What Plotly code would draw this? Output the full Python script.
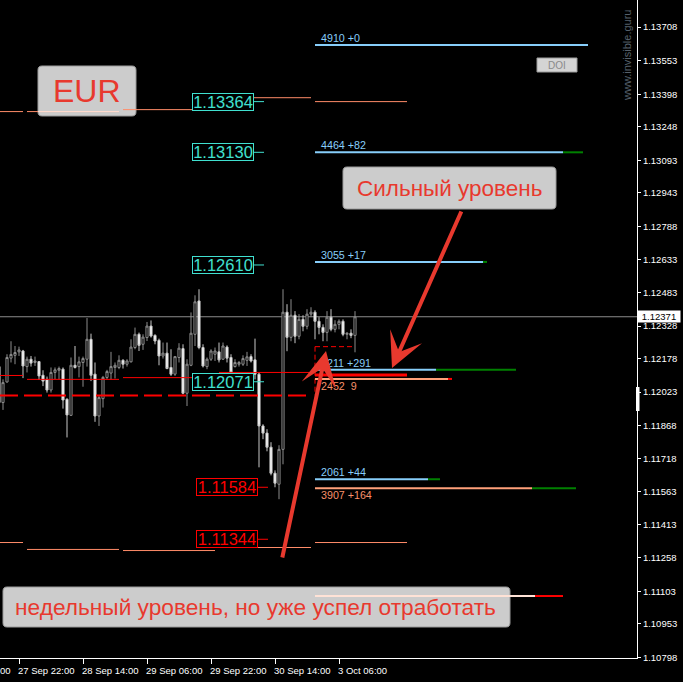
import plotly.graph_objects as go

# ---------------- EURUSD H1 bars (bar index 0 = 27 Sep 18:00) ----------------
bar_index = list(range(-1, 89))
open_ = [1.12141, 1.11975, 1.12070, 1.12180, 1.12193, 1.12209, 1.12213, 1.12141, 1.12175, 1.12160,
         1.12164, 1.12101, 1.12082, 1.12033, 1.12114, 1.12124, 1.12129, 1.11990, 1.11916, 1.12147,
         1.12141, 1.12160, 1.12175, 1.12267, 1.12106, 1.11913, 1.11993, 1.12091, 1.12111, 1.12137,
         1.12137, 1.12170, 1.12152, 1.12163, 1.12229, 1.12290, 1.12244, 1.12275, 1.12328, 1.12285,
         1.12262, 1.12190, 1.12203, 1.12137, 1.12106, 1.12183, 1.12224, 1.12018, 1.12147, 1.12290,
         1.12444, 1.12229, 1.12141, 1.12175, 1.12198, 1.12209, 1.12175, 1.12231, 1.12183, 1.12141,
         1.12152, 1.12152, 1.12170, 1.12187, 1.12172, 1.12106, 1.11867, 1.11834, 1.11769, 1.11649,
         1.11598, 1.11759, 1.12392, 1.12276, 1.12378, 1.12281, 1.12359, 1.12327, 1.12383, 1.12392,
         1.12350, 1.12322, 1.12299, 1.12369, 1.12313, 1.12336, 1.12350, 1.12290, 1.12295, 1.12285]
high = [1.12152, 1.12082, 1.12198, 1.12258, 1.12236, 1.12233, 1.12218, 1.12187, 1.12190, 1.12187,
        1.12166, 1.12124, 1.12095, 1.12137, 1.12137, 1.12141, 1.12137, 1.11995, 1.12183, 1.12236,
        1.12187, 1.12187, 1.12365, 1.12293, 1.12160, 1.12005, 1.12098, 1.12126, 1.12209, 1.12160,
        1.12193, 1.12175, 1.12175, 1.12267, 1.12321, 1.12298, 1.12290, 1.12347, 1.12354, 1.12290,
        1.12270, 1.12252, 1.12252, 1.12221, 1.12190, 1.12249, 1.12244, 1.12175, 1.12391, 1.12470,
        1.12498, 1.12244, 1.12183, 1.12221, 1.12229, 1.12252, 1.12252, 1.12239, 1.12198, 1.12175,
        1.12167, 1.12193, 1.12209, 1.12198, 1.12270, 1.12114, 1.11875, 1.11852, 1.11792, 1.11662,
        1.11778, 1.12498, 1.12429, 1.12452, 1.12397, 1.12383, 1.12378, 1.12406, 1.12415, 1.12401,
        1.12369, 1.12336, 1.12397, 1.12406, 1.12355, 1.12359, 1.12359, 1.12299, 1.12313, 1.12397]
low = [1.11959, 1.11941, 1.12067, 1.12160, 1.12152, 1.12190, 1.12088, 1.12114, 1.12141, 1.12144,
       1.12079, 1.12051, 1.12021, 1.12021, 1.12082, 1.12082, 1.11947, 1.11814, 1.11913, 1.12132,
       1.12091, 1.12048, 1.12141, 1.12074, 1.11886, 1.11867, 1.11952, 1.12082, 1.12082, 1.12086,
       1.12129, 1.12132, 1.12141, 1.12160, 1.12221, 1.12213, 1.12218, 1.12259, 1.12275, 1.12244,
       1.12147, 1.12178, 1.12129, 1.12098, 1.12098, 1.12160, 1.12013, 1.11959, 1.12143, 1.12236,
       1.12221, 1.12137, 1.12129, 1.12167, 1.12167, 1.12160, 1.12172, 1.12160, 1.12082, 1.12137,
       1.12141, 1.12144, 1.12144, 1.12160, 1.12082, 1.11676, 1.11806, 1.11750, 1.11639, 1.11584,
       1.11529, 1.11690, 1.12212, 1.12258, 1.12249, 1.12267, 1.12304, 1.12313, 1.12369, 1.12267,
       1.12290, 1.12258, 1.12258, 1.12304, 1.12299, 1.12313, 1.12281, 1.12267, 1.12272, 1.12207]
close = [1.11975, 1.12067, 1.12183, 1.12197, 1.12206, 1.12218, 1.12144, 1.12175, 1.12157, 1.12167,
         1.12098, 1.12074, 1.12033, 1.12114, 1.12126, 1.12132, 1.11987, 1.11918, 1.12147, 1.12137,
         1.12163, 1.12178, 1.12267, 1.12101, 1.11913, 1.11998, 1.12091, 1.12118, 1.12141, 1.12147,
         1.12170, 1.12152, 1.12167, 1.12231, 1.12290, 1.12239, 1.12277, 1.12328, 1.12282, 1.12259,
         1.12190, 1.12203, 1.12132, 1.12106, 1.12187, 1.12226, 1.12018, 1.12152, 1.12295, 1.12440,
         1.12229, 1.12144, 1.12175, 1.12213, 1.12213, 1.12172, 1.12236, 1.12180, 1.12114, 1.12160,
         1.12160, 1.12178, 1.12186, 1.12167, 1.12106, 1.11867, 1.11834, 1.11769, 1.11649, 1.11603,
         1.11759, 1.12392, 1.12276, 1.12378, 1.12281, 1.12359, 1.12327, 1.12383, 1.12392, 1.12350,
         1.12322, 1.12299, 1.12369, 1.12313, 1.12336, 1.12350, 1.12290, 1.12295, 1.12285, 1.12371]
last_price = 1.12371

price_ticks = [1.13708, 1.13553, 1.13398, 1.13248, 1.13093, 1.12943, 1.12788, 1.12633, 1.12483,
               1.12328, 1.12178, 1.12023, 1.11868, 1.11718, 1.11563, 1.11413, 1.11258, 1.11103,
               1.10953, 1.10798]
time_tick_bars = [-12, 4, 20, 36, 52, 68, 84]
time_tick_labels = ["27 Sep 06:00", "27 Sep 22:00", "28 Sep 14:00", "29 Sep 06:00",
                    "29 Sep 22:00", "30 Sep 14:00", "3 Oct 06:00"]

# ---------------- daily levels ----------------
day_start_bars = [-2, 6, 30, 54, 78]
day_end_bars = [5, 29, 53, 77, 101]
day_upper_levels = [1.13318, 1.13318, 1.13327, 1.13382, 1.13364]
day_mid_levels = [1.12100, 1.12082, 1.12090, 1.12114, 1.12102]
day_lower_levels = [1.11329, 1.11297, 1.11292, 1.11306, 1.11329]
weekly_level = 1.12007
weekly_level_end_bar = 76.25

# ---------------- price tags ----------------
tag_values = [1.13364, 1.13130, 1.12610, 1.12071, 1.11584, 1.11344]
tag_colors = ["#40E0D0", "#40E0D0", "#40E0D0", "#40E0D0", "#FF0000", "#FF0000"]
tag_end_bars = [65.25, 65.25, 65.25, 65.25, 66.25, 66.25]

# ---------------- volume levels of the current day ----------------
vol_prices = [1.13625, 1.13130, 1.12624, 1.12126, 1.12084, 1.11621, 1.11579, 1.11082]
vol_labels = ["4910 +0", "4464 +82", "3055 +17", "3211 +291", "2452\u00a0\u00a09",
              "2061 +44", "3907 +164", ""]
vol_start_bar = 78
vol_end_bars = [146.25, 140.0, 120.0, 108.25, 111.25, 106.25, 132.25, 133.0]
vol_tail_end_bars = [None, 145.0, 121.0, 128.25, 112.25, 109.25, 143.25, 140.0]

BLUE = "#87CEFA"
SALMON = "#FFA07A"
GREEN = "#008000"
RED = "#FF0000"
vol_colors = [BLUE, BLUE, BLUE, BLUE, SALMON, BLUE, SALMON, "#FFE2D6"]
vol_tail_colors = [None, GREEN, GREEN, GREEN, RED, GREEN, GREEN, RED]
vol_text_colors = [BLUE, BLUE, BLUE, BLUE, "#F8916A", BLUE, "#F8916A", None]

# ---------------- geometry ----------------
W, H = 683, 682
ML, MR, MT, MB = 0, 46, 0, 24
PW, PH = W - ML - MR, H - MT - MB
X0, X1 = -0.75, 158.5
Y0, Y1 = 1.10796, 1.13833
ARROW = "#E8392E"
FONT = "Liberation Sans, Arial, sans-serif"


def px(x):
    return x / PW


def py(y):
    return 1 - y / PH


def rounded_box(x0, y0, x1, y1, r=4):
    pts = [("M", x0 + r, y0), ("L", x1 - r, y0), ("Q", x1, y0, x1, y0 + r),
           ("L", x1, y1 - r), ("Q", x1, y1, x1 - r, y1), ("L", x0 + r, y1),
           ("Q", x0, y1, x0, y1 - r), ("L", x0, y0 + r), ("Q", x0, y0, x0 + r, y0)]
    out = []
    for p in pts:
        cmd, coords = p[0], p[1:]
        conv = []
        for i in range(0, len(coords), 2):
            conv.append(f"{px(coords[i]):.5f},{py(coords[i + 1]):.5f}")
        out.append(cmd + " ".join(conv))
    return " ".join(out) + " Z"


fig = go.Figure()
fig.add_trace(go.Candlestick(
    x=bar_index, open=open_, high=high, low=low, close=close,
    increasing=dict(line=dict(color="#8C8C8C", width=1), fillcolor="#000000"),
    decreasing=dict(line=dict(color="#C8C8C8", width=1), fillcolor="#FFFFFF"),
    whiskerwidth=0, hoverinfo="skip", showlegend=False,
))

shapes = []


def hline(y, xa, xb, color, width=1, dash="solid"):
    shapes.append(dict(type="line", xref="x", yref="y", x0=xa, x1=xb, y0=y, y1=y,
                       line=dict(color=color, width=width, dash=dash), layer="above"))


# last price line
shapes.append(dict(type="line", xref="paper", yref="y", x0=0, x1=1, y0=last_price, y1=last_price,
                   line=dict(color="#8C8C8C", width=1), layer="below"))

# grey text boxes
for (bx0, by0, bx1, by1) in [(38, 66, 136, 116), (343, 167, 556, 209), (3, 587, 510, 627)]:
    shapes.append(dict(type="path", xref="paper", yref="paper", path=rounded_box(bx0, by0, bx1, by1),
                       fillcolor="#CCCCCC", line=dict(color="#9A9A9A", width=1), layer="above"))

# DOI button
shapes.append(dict(type="rect", xref="paper", yref="paper", x0=px(537), x1=px(577), y0=py(72), y1=py(58),
                   fillcolor="#D4D4D4", line=dict(color="#9C9C9C", width=1), layer="above"))

# daily levels
for i in range(len(day_start_bars)):
    hline(day_upper_levels[i], day_start_bars[i], day_end_bars[i], "#FF8C69")
    hline(day_lower_levels[i], day_start_bars[i], day_end_bars[i], "#FF8C69")
    hline(day_mid_levels[i], day_start_bars[i], day_end_bars[i], RED, width=3 if i == 4 else 1)

# light part of the day line crossing the EUR box
box_left_bar = X0 + px(38) * (X1 - X0)
hline(day_upper_levels[1], box_left_bar, day_end_bars[1], "#FFE2D6")

# weekly level
hline(weekly_level, X0, weekly_level_end_bar, RED, width=2, dash="18px,6px")

# current-day range marker
range_top, range_bottom = 1.12233, 1.12009
shapes.append(dict(type="line", xref="x", yref="y", x0=78, x1=88, y0=range_top, y1=range_top,
                   line=dict(color=RED, width=1, dash="5px,3px"), layer="above"))
shapes.append(dict(type="line", xref="x", yref="y", x0=78, x1=78, y0=range_top, y1=range_bottom,
                   line=dict(color=RED, width=1, dash="5px,3px"), layer="above"))

# volume levels
for i, p in enumerate(vol_prices):
    hline(p, vol_start_bar, vol_end_bars[i], vol_colors[i], width=2)
    if vol_tail_end_bars[i] is not None:
        hline(p, vol_end_bars[i], vol_tail_end_bars[i], vol_tail_colors[i], width=2)

# price tag leaders
for v, c, e in zip(tag_values, tag_colors, tag_end_bars):
    hline(v, e - 2.5, e, c)

# marker on the price scale
shapes.append(dict(type="rect", xref="paper", yref="paper", x0=px(636), x1=px(639.5),
                   y0=py(411), y1=py(387), fillcolor="#FFFFFF", line=dict(width=0), layer="above"))

annotations = []

# price tags
for v, c, e in zip(tag_values, tag_colors, tag_end_bars):
    annotations.append(dict(x=e - 2.5, y=v, xref="x", yref="y", xanchor="right", yanchor="middle",
                            text=f"{v:.5f}", showarrow=False, bgcolor="#000000", bordercolor=c,
                            borderwidth=1, borderpad=0, width=60, height=16,
                            font=dict(family=FONT, size=16.5, color=c)))

# volume labels
for i, p in enumerate(vol_prices):
    if not vol_labels[i]:
        continue
    below = vol_colors[i] == SALMON
    annotations.append(dict(x=vol_start_bar, y=p, xref="x", yref="y", xanchor="left", yanchor="middle",
                            xshift=4, yshift=-7 if below else 7, text=vol_labels[i], showarrow=False,
                            font=dict(family=FONT, size=10.7, color=vol_text_colors[i])))

# time axis labels (left aligned at the tick, terminal style)
for b, lab in zip(time_tick_bars, time_tick_labels):
    annotations.append(dict(x=(b - X0) / (X1 - X0), y=0, xref="paper", yref="paper", xanchor="left",
                            yanchor="top", xshift=-3, yshift=-5, text=lab, showarrow=False,
                            font=dict(family=FONT, size=9.5, color="#FFFFFF")))

# current price tag on the scale
annotations.append(dict(x=1, y=last_price, xref="paper", yref="y", xanchor="left", yanchor="middle",
                        text=f"{last_price:.5f}", showarrow=False, bgcolor="#FFFFFF", borderpad=1,
                        width=40, height=9, font=dict(family=FONT, size=9.5, color="#000000")))


def centered_text(x, y, text, size, color, angle=0):
    annotations.append(dict(x=px(x), y=py(y), xref="paper", yref="paper", xanchor="center",
                            yanchor="middle", text=text, showarrow=False, textangle=angle,
                            font=dict(family=FONT, size=size, color=color)))


# box texts
centered_text(87, 91, "EUR", 32, ARROW)
centered_text(449.5, 188, "Сильный уровень", 22.5, ARROW)
centered_text(255, 607, "недельный уровень, но уже успел отработать", 22.7, ARROW)
centered_text(557, 65.5, "DOI", 10, "#8A8A8A")

# watermark
centered_text(627, 56, "www.invisible.guru", 11, "#56606C", angle=-90)

# arrows
annotations.append(dict(x=px(392), y=py(368), xref="paper", yref="paper", ax=70, ay=-158,
                        text="", showarrow=True, arrowhead=3, arrowsize=1.45, arrowwidth=4,
                        arrowcolor=ARROW, standoff=0))
annotations.append(dict(x=px(326), y=py(351), xref="paper", yref="paper", ax=-44, ay=208,
                        text="", showarrow=True, arrowhead=3, arrowsize=1.45, arrowwidth=4,
                        arrowcolor=ARROW, standoff=0))

fig.update_layout(
    width=W, height=H,
    margin=dict(l=ML, r=MR, t=MT, b=MB),
    paper_bgcolor="#000000", plot_bgcolor="#000000",
    showlegend=False, boxgap=0.25,
    shapes=shapes, annotations=annotations,
    xaxis=dict(range=[X0, X1], rangeslider=dict(visible=False), showgrid=False, zeroline=False,
               showline=True, linecolor="#FFFFFF", linewidth=1, ticks="outside", ticklen=5,
               tickcolor="#FFFFFF", tickvals=time_tick_bars, showticklabels=False, fixedrange=True),
    yaxis=dict(range=[Y0, Y1], side="right", showgrid=False, zeroline=False, showline=True,
               linecolor="#FFFFFF", linewidth=1, ticks="outside", ticklen=3, tickcolor="#FFFFFF",
               tickvals=price_ticks, ticktext=[f"{t:.5f}" for t in price_ticks],
               tickfont=dict(family=FONT, size=9.5, color="#FFFFFF"), fixedrange=True),
)

fig.write_html("out.html")
